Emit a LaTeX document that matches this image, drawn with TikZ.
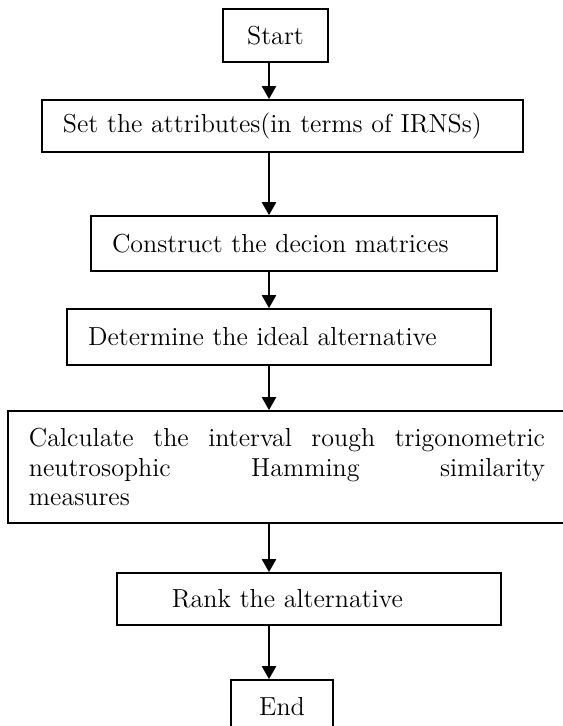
\documentclass[tikz,border=0pt]{standalone}
\usetikzlibrary{arrows.meta}
\newcommand\pxu{0.4608pt}
\begin{document}
\begin{tikzpicture}[x=\pxu,y=-\pxu,
  box/.style={draw,line width=0.8pt,font=\fontsize{12}{13.8}\selectfont,inner ysep=0pt},
  lbox/.style={box,align=left,inner xsep=9.68pt},
  arr/.style={-{Triangle[length=6pt,width=6.5pt]},line width=0.9pt}]
\useasboundingbox (0,0) rectangle (563,726);
\node[box,minimum width=48.4pt,minimum height=24.4pt] (start) at (275.5,35.5) {Start};
\node[lbox,text width=202.3pt,minimum height=24pt] (attr) at (282.5,126) {Set the attributes(in terms of IRNSs)};
\node[lbox,text width=167.7pt,minimum height=25.3pt] (dmat) at (294,243.5) {Construct the decion matrices};
\node[lbox,text width=176pt,minimum height=25.8pt] (ideal) at (279,337) {Determine the ideal alternative};
\node[lbox,align=justify,text width=237.8pt,minimum height=51.6pt] (sim) at (287,467) {\hyphenpenalty=10000\relax Calculate the interval rough trigonometric\linebreak neutrosophic Hamming similarity\linebreak measures};
\node[lbox,inner xsep=25.3pt,text width=126.3pt,minimum height=24pt] (rank) at (309,599) {Rank the alternative};
\node[box,minimum width=47pt,minimum height=24.9pt] (end) at (282,707) {End};
\coordinate (axis) at (269,0);
\foreach \a/\b in {start/attr,attr/dmat,dmat/ideal,ideal/sim,sim/rank,rank/end} {
\draw[arr] (\a.south -| axis) -- (\b.north -| axis);
}
\end{tikzpicture}
\end{document}
